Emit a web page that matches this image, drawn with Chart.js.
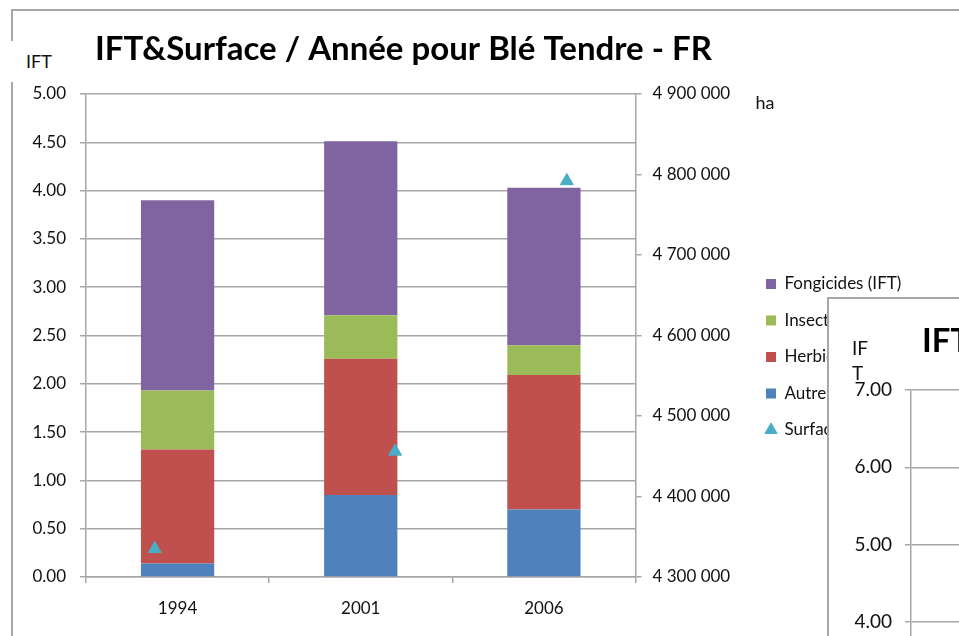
<!DOCTYPE html>
<html><head><meta charset="utf-8">
<script src="https://cdn.jsdelivr.net/npm/chart.js@4.4.1/dist/chart.umd.min.js"></script>
<style>
html,body{margin:0;padding:0;background:#fff;width:959px;height:636px;overflow:hidden;position:relative;font-family:Lato,sans-serif}
#frame{position:absolute;left:11px;top:9px;width:2000px;height:2000px;border-top:2px solid #a6a6a6;border-left:2px solid #a6a6a6}
#main{position:absolute;left:0;top:0}
#iftLabel{position:absolute;left:6px;top:41px;width:60px;height:41px;background:#fff;font:18px Lato;color:#111;line-height:41px;padding-left:20px;box-sizing:border-box}
#overlay{position:absolute;left:827px;top:297px;width:500px;height:700px;border-top:2px solid #a6a6a6;border-left:2px solid #a6a6a6;background:#fff}
#ov{position:absolute;left:0;top:0}
</style></head><body>
<div id="frame"></div>
<canvas id="main" width="959" height="636"></canvas>
<div id="iftLabel">IFT</div>
<div id="overlay"><canvas id="ov" width="420" height="680"></canvas></div>
<script>
// ---- data ----
const years = ['1994', '2001', '2006'];
const yearValues = [1994, 2001, 2006];
const autres = [0.14, 0.85, 0.70];
const herbicides = [1.18, 1.41, 1.39];
const insecticides = [0.61, 0.45, 0.31];
const fongicides = [1.97, 1.80, 1.63];
const surfaceHa = [4335000, 4456000, 4792000];
const seriesNames = ['Autres (IFT)', 'Herbicides (IFT)', 'Insecticides (IFT)', 'Fongicides (IFT)', 'Surface (ha)'];
const iftRange = [0, 5, 0.5];
const haRange = [4300000, 4900000, 100000];
const secondYearRange = [1992, 2008];
const overlayRange = [0, 7, 1];
const titleText = 'IFT&Surface / Année pour Blé Tendre - FR';
const overlayTitle = 'IFT';
const overlayAxisLabel = ['IF', 'T'];

// ---- styles ----
const GRID = '#a6a6a6', TXT = '#111', FONT = 'Lato';
const legendRank = [3, 2, 1, 0, 4];
const fmtHa = v => String(Math.round(v)).replace(/\B(?=(\d{3})+(?!\d))/g, ' ');

const textPlugin = {
  id: 'texts',
  afterDraw(chart) {
    const ctx = chart.ctx, a = chart.chartArea;
    ctx.save();
    ctx.fillStyle = '#000';
    ctx.textBaseline = 'alphabetic';
    ctx.font = 'bold 33px ' + FONT;
    ctx.fillText(titleText, a.left + 9, a.top - 34);
    ctx.fillStyle = TXT;
    ctx.font = '18px ' + FONT;
    ctx.fillText('ha', a.right + 120, a.top + 15);
    ctx.restore();
  }
};

new Chart(document.getElementById('main'), {
  type: 'bar',
  data: {
    labels: years,
    datasets: [
      {label: seriesNames[0], data: autres, backgroundColor: '#4f81bd', order: 1, pointStyle: 'rect', stack: 'ift'},
      {label: seriesNames[1], data: herbicides, backgroundColor: '#c0504d', order: 1, pointStyle: 'rect', stack: 'ift'},
      {label: seriesNames[2], data: insecticides, backgroundColor: '#9bbb59', order: 1, pointStyle: 'rect', stack: 'ift'},
      {label: seriesNames[3], data: fongicides, backgroundColor: '#8064a2', order: 1, pointStyle: 'rect', stack: 'ift'},
      {type: 'scatter', label: seriesNames[4], data: yearValues.map((y, i) => ({x: y, y: surfaceHa[i]})),
       xAxisID: 'x2', yAxisID: 'y2', pointStyle: 'triangle', pointRadius: 7.5, pointHoverRadius: 7.5,
       backgroundColor: '#4bacc6', borderColor: '#4bacc6', borderWidth: 1, order: 0}
    ]
  },
  options: {
    responsive: false, animation: false, devicePixelRatio: 1,
    layout: {padding: {top: 94, bottom: 16, left: 0, right: 47.5}},
    datasets: {bar: {barPercentage: 0.4, categoryPercentage: 1, grouped: false}},
    plugins: {
      title: {display: false},
      tooltip: {enabled: false},
      legend: {
        position: 'right', align: 'center', maxWidth: 165,
        labels: {usePointStyle: true, boxWidth: 10, boxHeight: 10, padding: 19.5, color: TXT,
                 font: {family: FONT, size: 17},
                 sort: (a, b) => legendRank[a.datasetIndex] - legendRank[b.datasetIndex]}
      }
    },
    scales: {
      x: {type: 'category', stacked: true, offset: true,
          grid: {offset: true, drawOnChartArea: false, drawTicks: true, tickLength: 6, color: GRID, lineWidth: 1.5},
          border: {color: GRID, width: 1.5},
          ticks: {color: TXT, font: {family: FONT, size: 17}, padding: 15, maxRotation: 0},
          afterFit: s => { s.height = 43; }},
      x2: {type: 'linear', display: false, offset: false, bounds: 'data', min: secondYearRange[0], max: secondYearRange[1]},
      y: {stacked: true, min: iftRange[0], max: iftRange[1],
          ticks: {stepSize: iftRange[2], callback: v => v.toFixed(2), padding: 14, color: TXT, font: {family: FONT, size: 17}},
          grid: {color: GRID, lineWidth: 1.5, tickLength: 6},
          border: {color: GRID, width: 1.5},
          afterFit: s => { s.width = 86; }},
      y2: {position: 'right', min: haRange[0], max: haRange[1],
           ticks: {stepSize: haRange[2], callback: fmtHa, padding: 11, color: TXT, font: {family: FONT, size: 17}},
           grid: {drawOnChartArea: false, tickLength: 6, color: GRID, lineWidth: 1.5},
           border: {color: GRID, width: 1.5},
           afterFit: s => { s.width = 111; }}
    }
  },
  plugins: [textPlugin]
});

// ---- overlapping second chart (partially visible) ----
const ovTextPlugin = {
  id: 'ovtexts',
  afterDraw(chart) {
    const ctx = chart.ctx;
    ctx.save();
    ctx.fillStyle = TXT;
    ctx.font = '19px ' + FONT;
    ctx.textBaseline = 'middle';
    ctx.fillText(overlayAxisLabel[0], 23, 50);
    ctx.fillText(overlayAxisLabel[1], 23, 75);
    ctx.fillStyle = '#000';
    ctx.textBaseline = 'alphabetic';
    ctx.font = 'bold 33px ' + FONT;
    ctx.fillText(overlayTitle, 93, 53);
    ctx.restore();
  }
};

new Chart(document.getElementById('ov'), {
  type: 'bar',
  data: {labels: [], datasets: []},
  options: {
    responsive: false, animation: false, devicePixelRatio: 1,
    layout: {padding: {top: 91, bottom: 48, left: 0, right: 0}},
    plugins: {legend: {display: false}, tooltip: {enabled: false}},
    scales: {
      x: {display: false},
      y: {min: overlayRange[0], max: overlayRange[1],
          ticks: {stepSize: overlayRange[2], callback: v => v.toFixed(2), padding: 13, color: TXT, font: {family: FONT, size: 19}},
          grid: {color: GRID, lineWidth: 1.5, tickLength: 6},
          border: {color: GRID, width: 1.5},
          afterFit: s => { s.width = 82; }}
    }
  },
  plugins: [ovTextPlugin]
});
</script>
</body></html>
